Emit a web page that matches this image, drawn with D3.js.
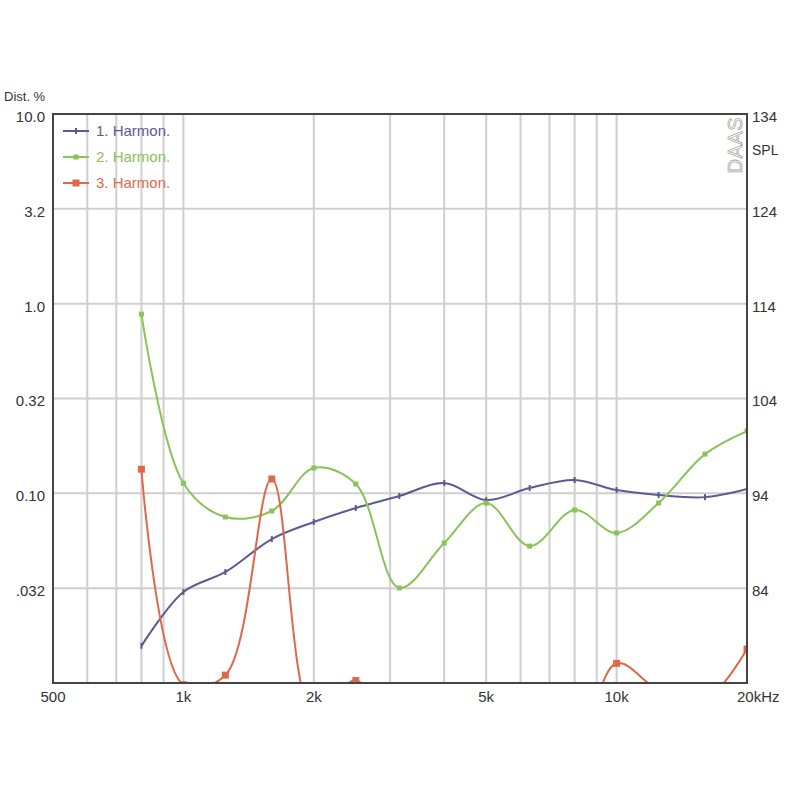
<!DOCTYPE html>
<html>
<head>
<meta charset="utf-8">
<script src="https://cdn.jsdelivr.net/npm/d3@7"></script>
<style>
  html, body { margin: 0; padding: 0; background: #ffffff; }
  svg { display: block; }
  text { font-family: "Liberation Sans", Arial, sans-serif; }
</style>
</head>
<body>
<script>
// ---------- data ----------
const freqs = [800, 1000, 1250, 1600, 2000, 2500, 3150, 4000, 5000, 6300, 8000, 10000, 12500, 16000, 20000];
const harmon1 = [0.0157, 0.0302, 0.0385, 0.0574, 0.0706, 0.0837, 0.0968, 0.1133, 0.0922, 0.1066, 0.1175, 0.104, 0.098, 0.0955, 0.1054];
const harmon2 = [0.881, 0.113, 0.075, 0.0807, 0.136, 0.112, 0.0317, 0.0547, 0.0889, 0.0527, 0.0817, 0.0618, 0.0889, 0.161, 0.213];
const harmon3 = [0.134, 0.0098, 0.0110, 0.119, 0.0068, 0.0103, 0.005, 0.004, 0.004, 0.004, 0.0045, 0.0127, 0.0092, 0.0082, 0.0151];
const seriesNames = ["1. Harmon.", "2. Harmon.", "3. Harmon."];
const seriesColors = ["#5c5a92", "#8cc25a", "#e0684a"];
const freqTicks = [500, 1000, 2000, 5000, 10000, 20000];
const freqTickLabels = ["500", "1k", "2k", "5k", "10k", "20kHz"];
const freqGrid = [600, 700, 800, 900, 1000, 2000, 3000, 4000, 5000, 6000, 7000, 8000, 9000, 10000];
const distTicks = [0.031623, 0.1, 0.31623, 1, 3.1623, 10];
const distTickLabels = [".032", "0.10", "0.32", "1.0", "3.2", "10.0"];
const splTicks = [84, 94, 104, 114, 124, 134];

// ---------- layout ----------
const W = 800, H = 800;
const L = 53, R = 747, T = 114, B = 683;

const svg = d3.select("body").append("svg").attr("width", W).attr("height", H);

const x = d3.scaleLog().domain([500, 20000]).range([L, R]);
const y = d3.scaleLog().domain([0.01, 10]).range([B, T]);
const ySpl = d3.scaleLinear().domain([74, 134]).range([B, T]);

// clip
svg.append("defs").append("clipPath").attr("id", "plotclip")
  .append("rect").attr("x", L).attr("y", T).attr("width", R - L).attr("height", B - T);

// grid
const grid = svg.append("g");
grid.selectAll("line.v").data(freqGrid).join("line")
  .attr("x1", d => x(d)).attr("x2", d => x(d)).attr("y1", T).attr("y2", B)
  .attr("stroke", "#cfcfcf").attr("stroke-width", 2);
grid.selectAll("line.h").data(distTicks.slice(0, 5)).join("line")
  .attr("x1", L).attr("x2", R).attr("y1", d => y(d)).attr("y2", d => y(d))
  .attr("stroke", "#cfcfcf").attr("stroke-width", 2);

// DAAS watermark
svg.append("text")
  .attr("transform", `translate(${R - 5},${T + 3}) rotate(-90)`)
  .attr("text-anchor", "end")
  .attr("font-size", 20)
  .attr("fill", "#ffffff").attr("stroke", "#a8a8a8").attr("stroke-width", 0.8)
  .attr("letter-spacing", 0.5)
  .text("DAAS");

// series
const series = [harmon1, harmon2, harmon3];
const plot = svg.append("g").attr("clip-path", "url(#plotclip)");
const line = d3.line().x(d => x(d[0])).y(d => y(d[1])).curve(d3.curveCatmullRom.alpha(0.5));

series.forEach((vals, i) => {
  const pts = freqs.map((f, k) => [f, vals[k]]);
  plot.append("path").datum(pts)
    .attr("d", line).attr("fill", "none")
    .attr("stroke", seriesColors[i]).attr("stroke-width", 2);
  const ms = i === 0 ? 3 : (i === 1 ? 5 : 7);
  if (i === 0) {
    plot.selectAll(null).data(pts).join("line")
      .attr("x1", d => x(d[0])).attr("x2", d => x(d[0]))
      .attr("y1", d => y(d[1]) - 3).attr("y2", d => y(d[1]) + 3)
      .attr("stroke", seriesColors[i]).attr("stroke-width", 2);
  } else {
    plot.selectAll(null).data(pts).join("rect")
      .attr("x", d => x(d[0]) - ms / 2).attr("y", d => y(d[1]) - ms / 2)
      .attr("width", ms).attr("height", ms)
      .attr("fill", seriesColors[i]);
  }
});

// frame
svg.append("rect").attr("x", L).attr("y", T).attr("width", R - L).attr("height", B - T)
  .attr("fill", "none").attr("stroke", "#444").attr("stroke-width", 2);

// left axis labels
svg.selectAll("text.dl").data(distTicks).join("text")
  .attr("x", 45).attr("y", d => y(d) + 4)
  .attr("text-anchor", "end").attr("dominant-baseline", "middle")
  .attr("font-size", 15).attr("fill", "#333")
  .text((d, i) => distTickLabels[i]);
svg.append("text").attr("x", 4).attr("y", 101)
  .attr("font-size", 13).attr("fill", "#333").text("Dist. %");

// right axis labels
svg.selectAll("text.sl").data(splTicks).join("text")
  .attr("x", 752).attr("y", d => ySpl(d) + 4)
  .attr("text-anchor", "start").attr("dominant-baseline", "middle")
  .attr("font-size", 15).attr("fill", "#333")
  .text(d => d);
svg.append("text").attr("x", 752).attr("y", 151)
  .attr("dominant-baseline", "middle")
  .attr("font-size", 14).attr("fill", "#333").text("SPL");

// bottom axis labels
svg.selectAll("text.fl").data(freqTicks).join("text")
  .attr("x", (d, i) => i === freqTicks.length - 1 ? x(d) - 10 : x(d))
  .attr("y", 698)
  .attr("text-anchor", (d, i) => i === freqTicks.length - 1 ? "start" : "middle")
  .attr("dominant-baseline", "middle")
  .attr("font-size", 15).attr("fill", "#333")
  .text((d, i) => freqTickLabels[i]);

// legend
const leg = svg.append("g");
seriesNames.forEach((name, i) => {
  const ly = 131 + i * 26;
  leg.append("line").attr("x1", 63).attr("x2", 89).attr("y1", ly).attr("y2", ly)
    .attr("stroke", seriesColors[i]).attr("stroke-width", 2);
  if (i === 0) {
    leg.append("line").attr("x1", 76).attr("x2", 76).attr("y1", ly - 3).attr("y2", ly + 3)
      .attr("stroke", seriesColors[i]).attr("stroke-width", 2);
  } else {
    const ms = i === 1 ? 5 : 7;
    leg.append("rect").attr("x", 76 - ms / 2).attr("y", ly - ms / 2)
      .attr("width", ms).attr("height", ms).attr("fill", seriesColors[i]);
  }
  leg.append("text").attr("x", 96).attr("y", ly + 1)
    .attr("dominant-baseline", "middle")
    .attr("font-size", 15).attr("fill", seriesColors[i])
    .text(name);
});
</script>
</body>
</html>
